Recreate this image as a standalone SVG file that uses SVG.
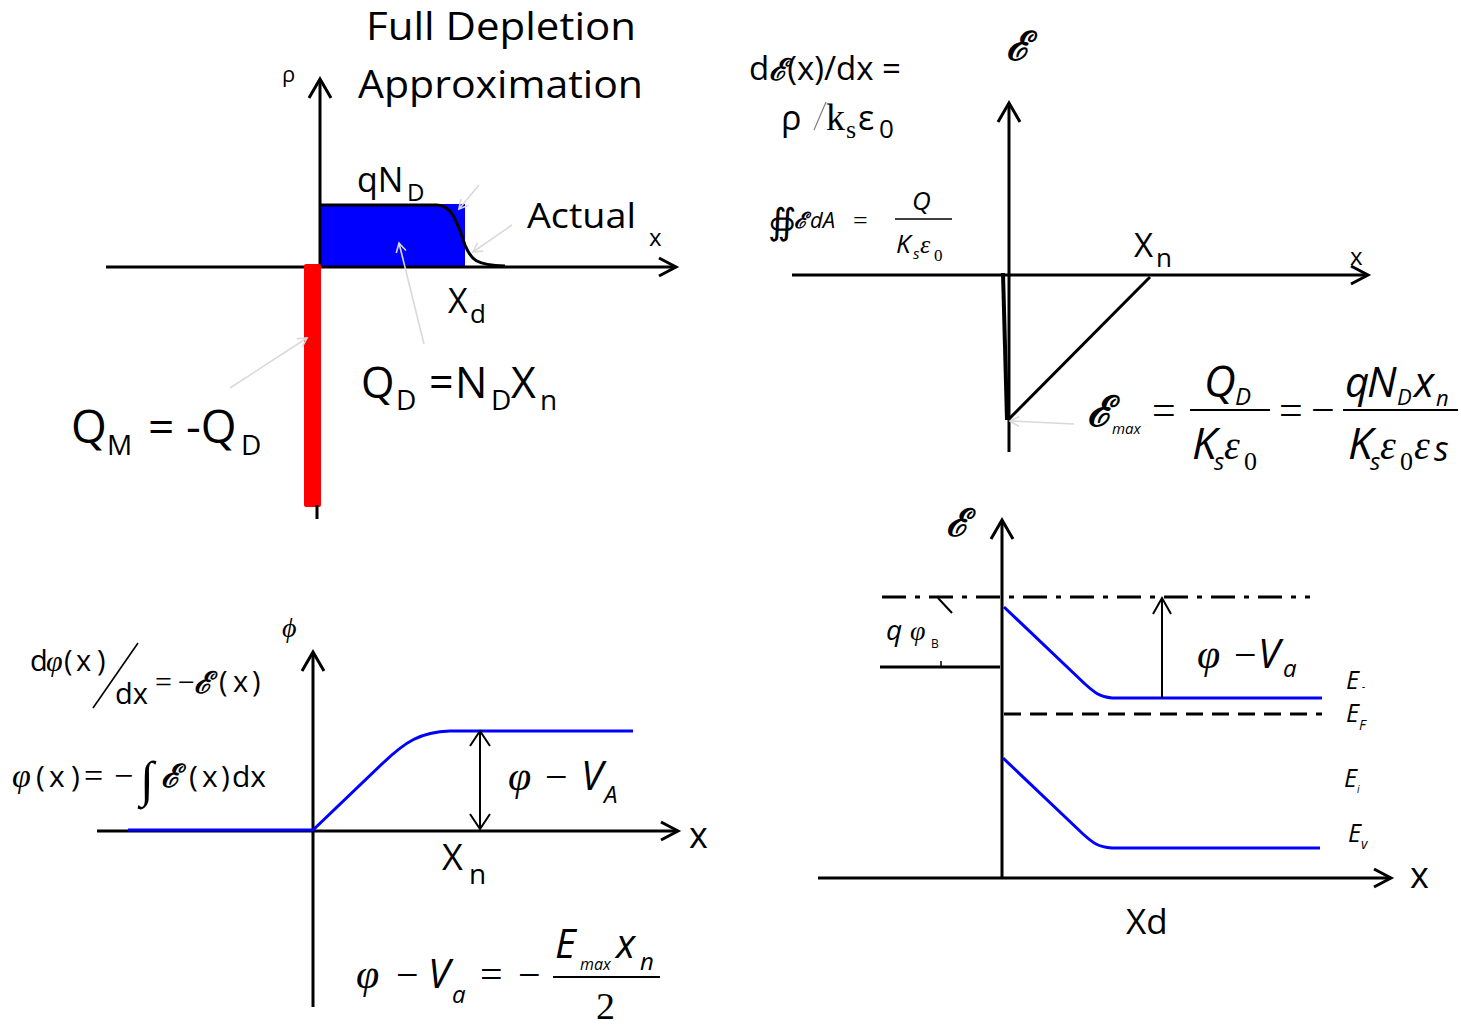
<svg xmlns="http://www.w3.org/2000/svg" width="1461" height="1027" viewBox="0 0 1461 1027">
<style>
.t{font-family:"Open Sans","Liberation Sans",sans-serif;fill:#000}
.ti{font-family:"Open Sans","Liberation Sans",sans-serif;font-style:italic;fill:#000}
.m{font-family:"Liberation Serif",serif;font-style:italic;fill:#000}
.r{font-family:"Liberation Serif",serif;fill:#000}
.sc{font-family:"DejaVu Serif","Liberation Serif",serif;font-style:italic;font-weight:bold;fill:#000}
.ax{stroke:#000;stroke-width:3;fill:none}
.ah{stroke:#000;stroke-width:3;fill:none;stroke-linejoin:miter}
.thin{stroke:#000;stroke-width:2;fill:none}
.grey{stroke:#d9d9d9;stroke-width:1.6;fill:none}
.blue{stroke:#0000ff;stroke-width:3;fill:none}
</style>
<defs>
<marker id="ga" markerWidth="12" markerHeight="12" refX="10" refY="6" orient="auto" markerUnits="userSpaceOnUse">
<path d="M1 1 L10 6 L1 11" stroke="#d9d9d9" stroke-width="1.6" fill="none"/>
</marker>
</defs>

<!-- Top-left: charge density -->
<g id="rho-panel">
<rect x="320" y="204" width="145" height="63" fill="#0000ff"/>
<path d="M320 205 H437 C452 205 457 222 465 245 C471 260 476 265 505 266" stroke="#000" stroke-width="3" fill="none"/>
<line class="ax" x1="320" y1="80" x2="320" y2="267"/>
<path class="ah" d="M309 98 L320 79 L331 98"/>
<line class="ax" x1="106" y1="267" x2="675" y2="267"/>
<path class="ah" d="M659 258 L676 267 L659 276"/>
<rect x="304" y="264" width="17" height="243" rx="2" fill="#ff0000"/>
<line class="ax" x1="317" y1="505" x2="317" y2="519"/>
<text class="t" x="366" y="40" font-size="39" textLength="270" lengthAdjust="spacingAndGlyphs">Full Depletion</text>
<text class="t" x="358" y="98" font-size="39" textLength="285" lengthAdjust="spacingAndGlyphs">Approximation</text>
<text class="t" x="282" y="82" font-size="22">ρ</text>
<text class="t" x="357" y="192" font-size="34">qN<tspan x="407" y="201" font-size="24">D</tspan></text>
<text class="t" x="527" y="228" font-size="35" textLength="109" lengthAdjust="spacingAndGlyphs">Actual</text>
<text class="t" x="649" y="246" font-size="24">x</text>
<text class="t" x="448" y="313" font-size="34">X<tspan x="470" y="323" font-size="26">d</tspan></text>
<text class="t" x="361" y="398" font-size="43">Q<tspan x="396" y="410" font-size="28">D</tspan><tspan x="429" y="398">=</tspan><tspan x="455" y="398">N</tspan><tspan x="491" y="410" font-size="28">D</tspan><tspan x="511" y="398">X</tspan><tspan x="540" y="410" font-size="28">n</tspan></text>
<text class="t" x="71" y="443" font-size="46">Q<tspan x="107" y="455" font-size="28">M</tspan><tspan x="148" y="443">=</tspan><tspan x="186" y="443">-Q</tspan><tspan x="241" y="455" font-size="28">D</tspan></text>
<line class="grey" x1="479" y1="185" x2="459" y2="209" marker-end="url(#ga)"/>
<line class="grey" x1="512" y1="225" x2="473" y2="252" marker-end="url(#ga)"/>
<line class="grey" x1="424" y1="344" x2="399" y2="243" marker-end="url(#ga)"/>
<line class="grey" x1="230" y1="388" x2="307" y2="338" marker-end="url(#ga)"/>
</g>

<!-- Top-right: electric field -->
<g id="field-panel">
<line class="ax" x1="1009" y1="104" x2="1009" y2="452"/>
<path class="ah" d="M998 122 L1009 103 L1020 122"/>
<line class="ax" x1="792" y1="275" x2="1367" y2="275"/>
<path class="ah" d="M1351 266 L1368 275 L1351 284"/>
<path d="M1003 273 L1007 420" stroke="#000" stroke-width="4" fill="none"/>
<line x1="1008" y1="420" x2="1150" y2="277" stroke="#000" stroke-width="3"/>
<line class="grey" x1="1074" y1="424" x2="1010" y2="421" marker-end="url(#ga)"/>
<text class="sc" x="1006" y="60" font-size="40">ℰ</text>
<text class="t" x="1350" y="265" font-size="24">x</text>
<text class="t" x="1134" y="257" font-size="33">X<tspan x="1156" y="267" font-size="26">n</tspan></text>
<text class="t" x="749" y="80" font-size="33">d<tspan class="sc" font-size="30">ℰ</tspan>(x)/dx =</text>
<text class="t" x="781" y="130" font-size="34">ρ</text>
<line x1="814" y1="130" x2="826" y2="102" stroke="#808080" stroke-width="1.2"/>
<text class="r" x="826" y="130" font-size="38">k<tspan x="846" y="138" font-size="26">s</tspan></text>
<text class="t" x="858" y="130" font-size="34">ε<tspan x="879" y="138" font-size="26">0</tspan></text>
<text class="r" x="768" y="234" font-size="36">∯</text>
<text class="sc" x="794" y="228" font-size="22" font-weight="normal">ℰ</text>
<text class="ti" x="810" y="228" font-size="22">dA</text>
<text class="r" x="853" y="229" font-size="26">=</text>
<line x1="895" y1="219" x2="952" y2="219" stroke="#000" stroke-width="1.5"/>
<text class="ti" x="912" y="210" font-size="26">Q</text>
<text class="ti" x="896" y="253" font-size="26">K<tspan x="913" y="259" font-size="15">s</tspan></text>
<text class="m" x="920" y="253" font-size="26">ε<tspan x="934" y="261" font-size="17" font-style="normal">0</tspan></text>
<text class="sc" x="1087" y="426" font-size="42">ℰ</text>
<text class="ti" x="1112" y="434" font-size="15">max</text>
<text class="r" x="1152" y="424" font-size="42">=</text>
<line x1="1190" y1="410" x2="1270" y2="410" stroke="#000" stroke-width="2"/>
<text class="ti" x="1204" y="397" font-size="44">Q<tspan x="1235" y="405" font-size="24">D</tspan></text>
<text class="ti" x="1192" y="459" font-size="44">K<tspan x="1214" y="470" font-size="24">s</tspan></text>
<text class="m" x="1224" y="459" font-size="40">ε<tspan x="1244" y="470" font-size="26" font-style="normal">0</tspan></text>
<text class="r" x="1279" y="424" font-size="42">=</text>
<text class="r" x="1311" y="424" font-size="42">−</text>
<line x1="1343" y1="410" x2="1458" y2="410" stroke="#000" stroke-width="2"/>
<text class="ti" x="1345" y="397" font-size="42">q<tspan x="1367" y="397">N</tspan><tspan x="1397" y="405" font-size="22">D</tspan><tspan x="1414" y="397">x</tspan><tspan x="1436" y="406" font-size="22">n</tspan></text>
<text class="ti" x="1348" y="459" font-size="44">K<tspan x="1370" y="470" font-size="24">s</tspan></text>
<text class="m" x="1380" y="459" font-size="40">ε<tspan x="1400" y="470" font-size="26" font-style="normal">0</tspan><tspan x="1414" y="459">ε</tspan><tspan class="ti" x="1434" y="461" font-size="34">s</tspan></text>
</g>

<!-- Bottom-left: potential -->
<g id="potential-panel">
<line class="ax" x1="313" y1="653" x2="313" y2="1007"/>
<path class="ah" d="M302 671 L313 652 L324 671"/>
<line class="ax" x1="97" y1="831" x2="677" y2="831"/>
<path class="ah" d="M661 822 L678 831 L661 840"/>
<path class="blue" d="M128 830 H313 L383 763 C405 742 420 732 450 731 H633"/>
<line class="thin" x1="480" y1="732" x2="480" y2="828"/>
<path class="thin" d="M470 746 L480 731 L490 746 M470 814 L480 829 L490 814"/>
<text class="m" x="282" y="637" font-size="28">ϕ</text>
<text class="t" x="689" y="848" font-size="36">x</text>
<text class="t" x="442" y="870" font-size="36">X<tspan x="469" y="884" font-size="28">n</tspan></text>
<text class="m" x="508" y="790" font-size="42">φ</text>
<text class="r" x="545" y="790" font-size="40">−</text>
<text class="ti" x="581" y="790" font-size="40">V<tspan x="604" y="803" font-size="24">A</tspan></text>
<text class="t" x="30" y="671" font-size="29">d</text>
<text class="m" x="46" y="671" font-size="30">φ</text>
<text class="t" x="64" y="671" font-size="29">(</text>
<text class="t" x="76" y="671" font-size="29">x</text>
<text class="t" x="97" y="671" font-size="29">)</text>
<line x1="93" y1="708" x2="138" y2="643" stroke="#000" stroke-width="1.6"/>
<text class="t" x="115" y="704" font-size="29">dx</text>
<text class="r" x="155" y="692" font-size="30">=</text>
<text class="r" x="178" y="692" font-size="30">−</text>
<text class="sc" x="194" y="693" font-size="30">ℰ</text>
<text class="t" x="219" y="692" font-size="29">(</text>
<text class="t" x="233" y="692" font-size="29">x</text>
<text class="t" x="252" y="692" font-size="29">)</text>
<text class="m" x="12" y="787" font-size="34">φ</text>
<text class="t" x="36" y="787" font-size="30">(</text>
<text class="t" x="49" y="787" font-size="30">x</text>
<text class="t" x="71" y="787" font-size="30">)</text>
<text class="r" x="84" y="787" font-size="34">=</text>
<text class="r" x="114" y="787" font-size="34">−</text>
<text class="r" x="140" y="796" font-size="50">∫</text>
<text class="sc" x="161" y="787" font-size="32">ℰ</text>
<text class="t" x="189" y="787" font-size="30">(</text>
<text class="t" x="202" y="787" font-size="30">x</text>
<text class="t" x="221" y="787" font-size="30">)</text>
<text class="t" x="232" y="787" font-size="30">dx</text>
<text class="m" x="356" y="988" font-size="42">φ</text>
<text class="r" x="396" y="988" font-size="40">−</text>
<text class="ti" x="428" y="988" font-size="40">V<tspan x="452" y="1003" font-size="24">a</tspan></text>
<text class="r" x="480" y="988" font-size="40">=</text>
<text class="r" x="518" y="988" font-size="40">−</text>
<line x1="553" y1="977" x2="660" y2="977" stroke="#000" stroke-width="2"/>
<text class="ti" x="555" y="958" font-size="40">E<tspan x="580" y="970" font-size="16">max</tspan><tspan x="616" y="958">x</tspan><tspan x="640" y="970" font-size="24">n</tspan></text>
<text class="r" x="596" y="1019" font-size="38">2</text>
</g>

<!-- Bottom-right: band diagram -->
<g id="band-panel">
<line class="ax" x1="1002" y1="521" x2="1002" y2="877"/>
<path class="ah" d="M991 539 L1002 520 L1013 539"/>
<line class="ax" x1="818" y1="878" x2="1390" y2="878"/>
<path class="ah" d="M1374 869 L1391 878 L1374 887"/>
<line x1="882" y1="597" x2="1310" y2="597" stroke="#000" stroke-width="3" stroke-dasharray="24 9 5 9"/>
<line x1="938" y1="598" x2="952" y2="613" stroke="#000" stroke-width="2"/>
<line class="ax" x1="880" y1="667" x2="1000" y2="667"/>
<line x1="941" y1="661" x2="941" y2="667" stroke="#000" stroke-width="1.5"/>
<path class="blue" d="M1004 607 L1085 684 C1095 693 1100 697 1112 698 H1322"/>
<line x1="1004" y1="714" x2="1322" y2="714" stroke="#000" stroke-width="3" stroke-dasharray="17 9"/>
<path class="blue" d="M1003 758 L1083 834 C1093 843 1098 847 1112 848 H1320"/>
<line class="thin" x1="1162" y1="698" x2="1162" y2="599"/>
<path class="thin" d="M1153 614 L1162 598 L1171 614"/>
<text class="sc" x="946" y="536" font-size="38">ℰ</text>
<text class="t" x="1410" y="888" font-size="36">x</text>
<text class="t" x="1126" y="934" font-size="35">Xd</text>
<text class="ti" x="886" y="640" font-size="28">q</text>
<text class="m" x="910" y="640" font-size="28">φ<tspan x="931" y="648" font-size="12" font-style="normal" class="t">B</tspan></text>
<text class="m" x="1197" y="668" font-size="42">φ</text>
<text class="r" x="1234" y="668" font-size="40">−</text>
<text class="ti" x="1258" y="668" font-size="40">V<tspan x="1283" y="677" font-size="24">a</tspan></text>
<text class="ti" x="1346" y="689" font-size="25">E<tspan x="1362" y="690" font-size="10">-</tspan></text>
<text class="ti" x="1346" y="722" font-size="25">E<tspan x="1359" y="730" font-size="14">F</tspan></text>
<text class="ti" x="1344" y="787" font-size="25">E<tspan x="1357" y="793" font-size="10">i</tspan></text>
<text class="ti" x="1348" y="842" font-size="25">E<tspan x="1361" y="849" font-size="14">v</tspan></text>
</g>
</svg>
